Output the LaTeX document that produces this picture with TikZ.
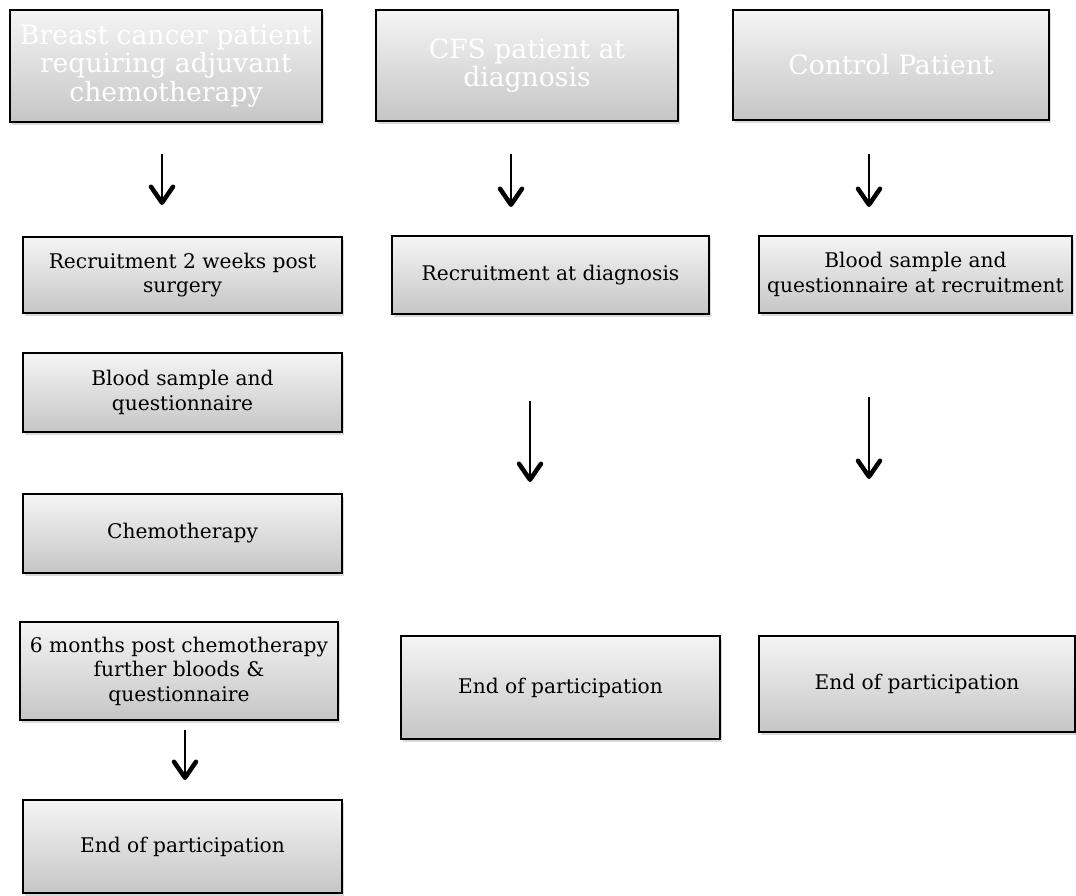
\documentclass[tikz,border=0pt]{standalone}
\usepackage{fontspec}
\setmainfont{DejaVu Serif}
\usetikzlibrary{arrows.meta, shadows}

\begin{document}
\begin{tikzpicture}[x=1pt, y=-1pt,
    flowbox/.style={rectangle, draw=black, line width=1.3pt,
                top color=gray!8, bottom color=gray!45,
                drop shadow={shadow xshift=2pt, shadow yshift=-3pt, opacity=0.3},
                align=center, inner sep=2pt,
                font=\fontsize{20.2}{24.5}\selectfont},
    headbox/.style={flowbox, text=white, font=\fontsize{26.6}{28.7}\selectfont},
    flowarrow/.style={line width=1.5pt,
                -{Straight Barb[length=16pt, width=22pt, line width=4.5pt, round]}},
  ]
    \useasboundingbox (0,0) rectangle (1076,895);

    % breast cancer column
    \node[headbox, minimum width=312pt, minimum height=112pt] (bc0) at (166,66)
      {Breast cancer patient\\requiring adjuvant\\chemotherapy};
    \node[flowbox, minimum width=319pt, minimum height=76pt] (bc1) at (182.5,275)
      {Recruitment 2 weeks post\\surgery};
    \node[flowbox, minimum width=319pt, minimum height=79pt] (bc2) at (182.5,392.5)
      {Blood sample and\\questionnaire};
    \node[flowbox, minimum width=319pt, minimum height=79pt] (bc3) at (182.5,533.5)
      {Chemotherapy};
    \node[flowbox, minimum width=318pt, minimum height=98pt] (bc4) at (179,671)
      {6 months post chemotherapy\\further bloods \&\\questionnaire};
    \node[flowbox, minimum width=319pt, minimum height=93pt] (bc5) at (182.5,846.5)
      {End of participation};

    % CFS column
    \node[headbox, minimum width=302pt, minimum height=111pt] (cfs0) at (527,65.5)
      {CFS patient at\\diagnosis};
    \node[flowbox, minimum width=317pt, minimum height=78pt] (cfs1) at (550.5,275)
      {Recruitment at diagnosis};
    \node[flowbox, minimum width=319pt, minimum height=103pt] (cfs2) at (560.5,687.5)
      {End of participation};

    % control column
    \node[headbox, minimum width=316pt, minimum height=110pt] (ctl0) at (891,65)
      {Control Patient};
    \node[flowbox, minimum width=313pt, minimum height=77pt] (ctl1) at (915.5,274.5)
      {Blood sample and\\questionnaire at recruitment};
    \node[flowbox, minimum width=316pt, minimum height=96pt] (ctl2) at (917,684)
      {End of participation};

    % free-standing arrows
    \foreach \n/\x/\ya/\yb in {1/162/154/205, 2/511/154/207, 3/869/154/207,
                               4/530/401/482, 5/869/397/479, 6/185/730/780}{
      \coordinate (as\n) at (\x,\ya);
      \coordinate (ae\n) at (\x,\yb);
      \draw[flowarrow] (as\n) -- (ae\n);
    }
  \end{tikzpicture}
\end{document}
